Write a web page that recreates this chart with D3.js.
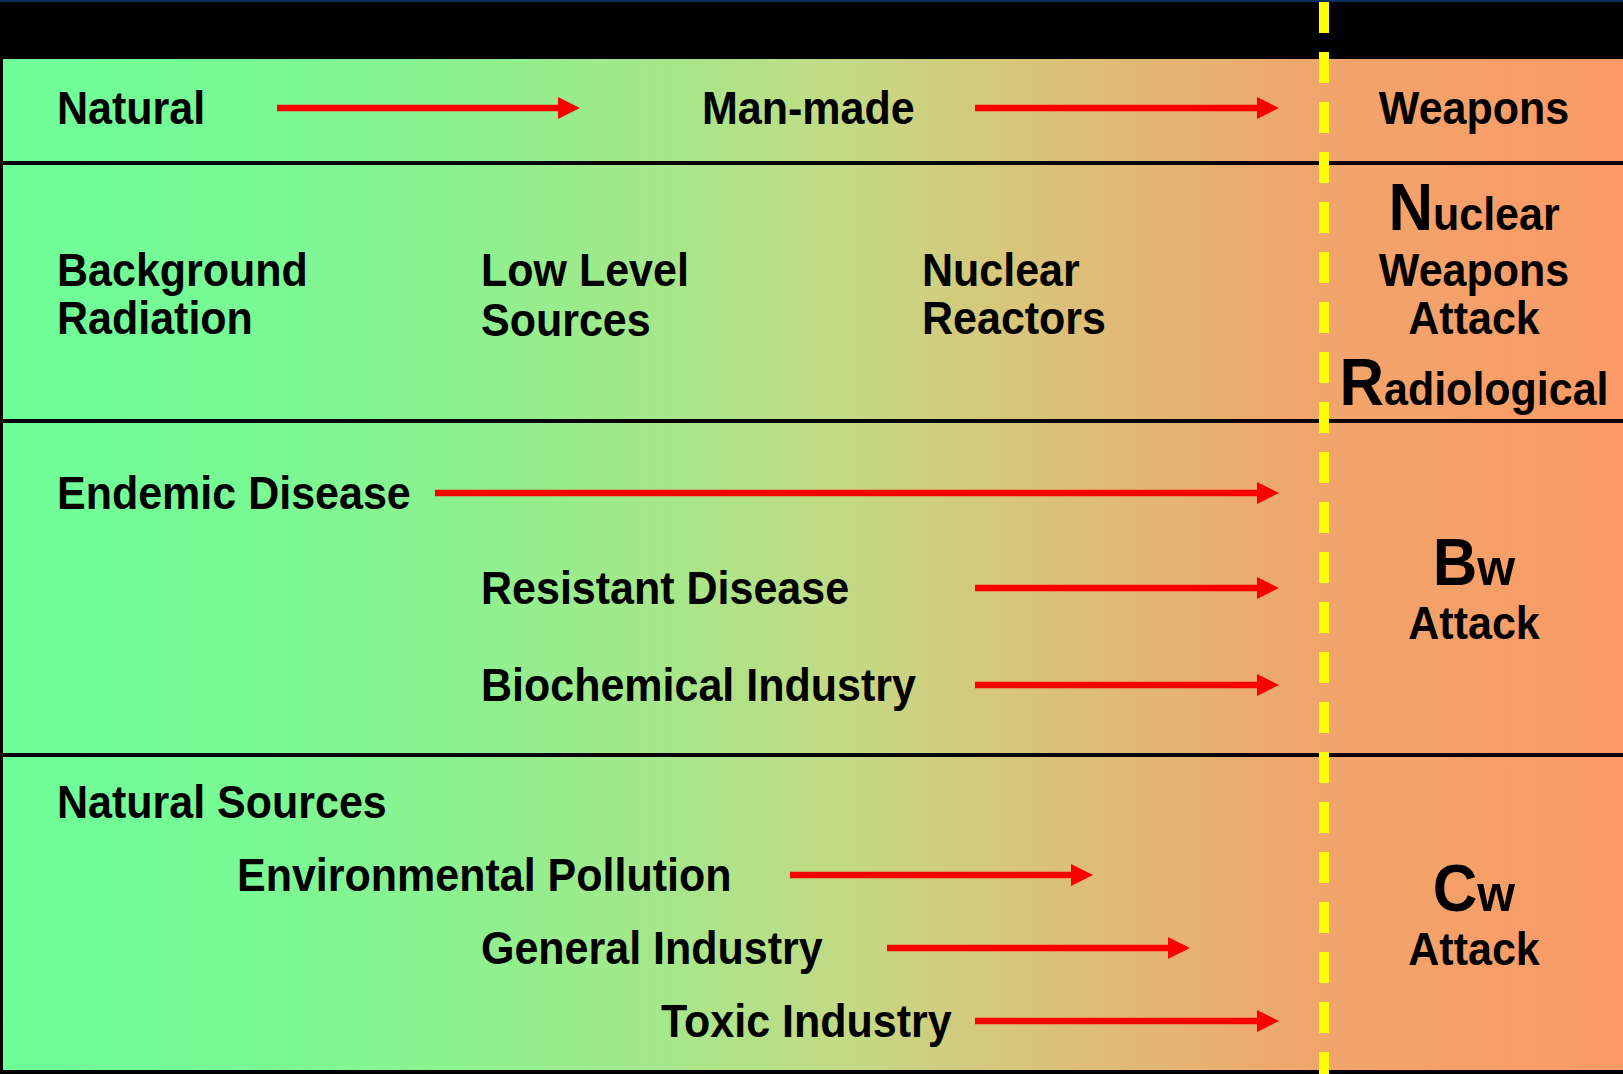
<!DOCTYPE html>
<html>
<head>
<meta charset="utf-8">
<script src="https://cdn.jsdelivr.net/npm/d3@7/dist/d3.min.js"></script>
<style>
  html, body { margin: 0; padding: 0; background: #000; }
  svg { display: block; }
</style>
</head>
<body>
<div id="chart"></div>
<script>
// threat spectrum chart - natural -> man-made -> weapons

// ---- data ----
const rowNames = ["header", "radiological", "biological", "chemical"];

// text labels: row, column key, line key, text (big = enlarged first letter)
const labelRows   = ["header", "header", "header",
                     "radiological", "radiological", "radiological", "radiological", "radiological", "radiological",
                     "radiological", "radiological", "radiological", "radiological",
                     "biological", "biological", "biological", "biological", "biological",
                     "chemical", "chemical", "chemical", "chemical", "chemical", "chemical"];
const labelCols   = ["left", "manmade", "weapons",
                     "left", "left", "low", "low", "nuclear", "nuclear",
                     "weapons", "weapons", "weapons", "weapons",
                     "left", "low", "low", "weapons", "weapons",
                     "left", "env", "low", "toxic", "weapons", "weapons"];
const labelLines  = ["h", "h", "h",
                     "r1", "r2", "r1", "r2s", "r1", "r2",
                     "r0", "r1", "r2", "r3",
                     "b1", "b2", "b3", "bw", "bwa",
                     "c1", "c2", "c3", "c4", "cw", "cwa"];
const labelTexts  = ["Natural", "Man-made", "Weapons",
                     "Background", "Radiation", "Low Level", "Sources", "Nuclear", "Reactors",
                     "Nuclear", "Weapons", "Attack", "Radiological",
                     "Endemic Disease", "Resistant Disease", "Biochemical Industry", "Bw", "Attack",
                     "Natural Sources", "Environmental Pollution", "General Industry", "Toxic Industry", "Cw", "Attack"];
const labelBig    = [false, false, false,
                     false, false, false, false, false, false,
                     true, false, false, true,
                     false, false, false, true, false,
                     false, false, false, false, true, false];

// arrows: line key, start column, end column
const arrowLines  = ["h", "h", "b1", "b2", "b3", "c2", "c3", "c4"];
const arrowStarts = ["a1", "a5", "a2", "a5", "a5", "a3", "a4", "a5"];
const arrowEnds   = ["e1", "e4", "e4", "e4", "e4", "e2", "e3", "e4"];

// ---- layout ----
const W = 1623, H = 1074;
const rowTop    = d3.scaleOrdinal().domain(rowNames).range([59, 165, 423, 757]);
const rowBottom = d3.scaleOrdinal().domain(rowNames).range([161, 419, 753, 1070]);
const weaponsX = 1324;

const colX = d3.scaleOrdinal()
    .domain(["left", "env", "low", "toxic", "manmade", "nuclear", "weapons",
             "a1", "a2", "a3", "a4", "a5", "e1", "e2", "e3", "e4"])
    .range([57, 237, 481, 661, 702, 922, 1474,
            277, 435, 790, 887, 975, 580, 1093, 1190, 1279]);

// text baselines
const lineY = d3.scaleOrdinal()
    .domain(["h", "r0", "r1", "r2", "r2s", "r3", "b1", "b2", "b3", "bw", "bwa", "c1", "c2", "c3", "c4", "cw", "cwa"])
    .range([124, 230, 286, 334, 336, 405, 509, 604, 701, 585, 639, 818, 891, 964, 1037, 911, 965]);
const arrowLift = 16; // arrow sits at text mid height

const fs = 46, bigFs = 66, squeeze = 0.935;

const svg = d3.select("#chart").append("svg")
    .attr("width", W)
    .attr("height", H);

// gradient across the spectrum
const grad = svg.append("defs").append("linearGradient")
    .attr("id", "spectrum")
    .attr("gradientUnits", "userSpaceOnUse")
    .attr("x1", 0).attr("x2", W).attr("y1", 0).attr("y2", 0);
[[0, "#6dfe98"], [0.15, "#78fa94"], [0.3, "#8ff08e"], [0.42, "#a8e68a"],
 [0.52, "#c3da84"], [0.61, "#d5c87c"], [0.71, "#e3b674"], [0.8, "#f0a66c"], [1, "#fb9a66"]]
    .forEach(s => grad.append("stop").attr("offset", s[0]).attr("stop-color", s[1]));

// background
svg.append("rect").attr("width", W).attr("height", H).attr("fill", "#000");
svg.append("rect").attr("width", W).attr("height", 2).attr("fill", "#0d2d5e");

// rows
svg.append("g").selectAll("rect")
    .data(rowNames)
    .enter().append("rect")
        .attr("x", 3)
        .attr("y", d => rowTop(d))
        .attr("width", W - 3)
        .attr("height", d => rowBottom(d) - rowTop(d))
        .attr("fill", "url(#spectrum)");

// yellow dashed divider
svg.append("line")
    .attr("x1", weaponsX).attr("x2", weaponsX)
    .attr("y1", 2).attr("y2", H)
    .attr("stroke", "#ffff00")
    .attr("stroke-width", 10)
    .attr("stroke-dasharray", "31 19");

// arrows
const head = 22;
const arrows = svg.append("g").selectAll("g")
    .data(arrowLines.map((l, i) => ({ line: l, x0: colX(arrowStarts[i]), x1: colX(arrowEnds[i]) })))
    .enter().append("g")
        .attr("transform", d => `translate(0, ${lineY(d.line) - arrowLift})`);
arrows.append("line")
    .attr("x1", d => d.x0)
    .attr("x2", d => d.x1 - head + 2)
    .attr("stroke", "#fa0000")
    .attr("stroke-width", 6.5);
arrows.append("path")
    .attr("d", d => `M${d.x1},0 L${d.x1 - head},${-head / 2} L${d.x1 - head},${head / 2} Z`)
    .attr("fill", "#fa0000");

// labels
const labels = svg.append("g")
    .attr("font-family", "'Liberation Sans', Arial, Helvetica, sans-serif")
    .attr("font-weight", "bold")
    .attr("fill", "#000")
    .selectAll("text")
    .data(labelTexts.map((t, i) => ({ text: t, col: labelCols[i], line: labelLines[i], big: labelBig[i] })))
    .enter().append("text")
        .attr("transform", d => `translate(${colX(d.col)}, ${lineY(d.line)}) scale(${squeeze}, 1)`)
        .attr("text-anchor", d => d.col === "weapons" ? "middle" : "start")
        .attr("font-size", fs);

labels.filter(d => !d.big).text(d => d.text);
labels.filter(d => d.big).each(function(d) {
    const t = d3.select(this);
    t.append("tspan").attr("font-size", bigFs).text(d.text[0]);
    // the short "w" suffix of Bw / Cw is drawn a bit larger
    t.append("tspan").attr("font-size", d.text.length === 2 ? 52 : fs).text(d.text.slice(1));
});
</script>
</body>
</html>
